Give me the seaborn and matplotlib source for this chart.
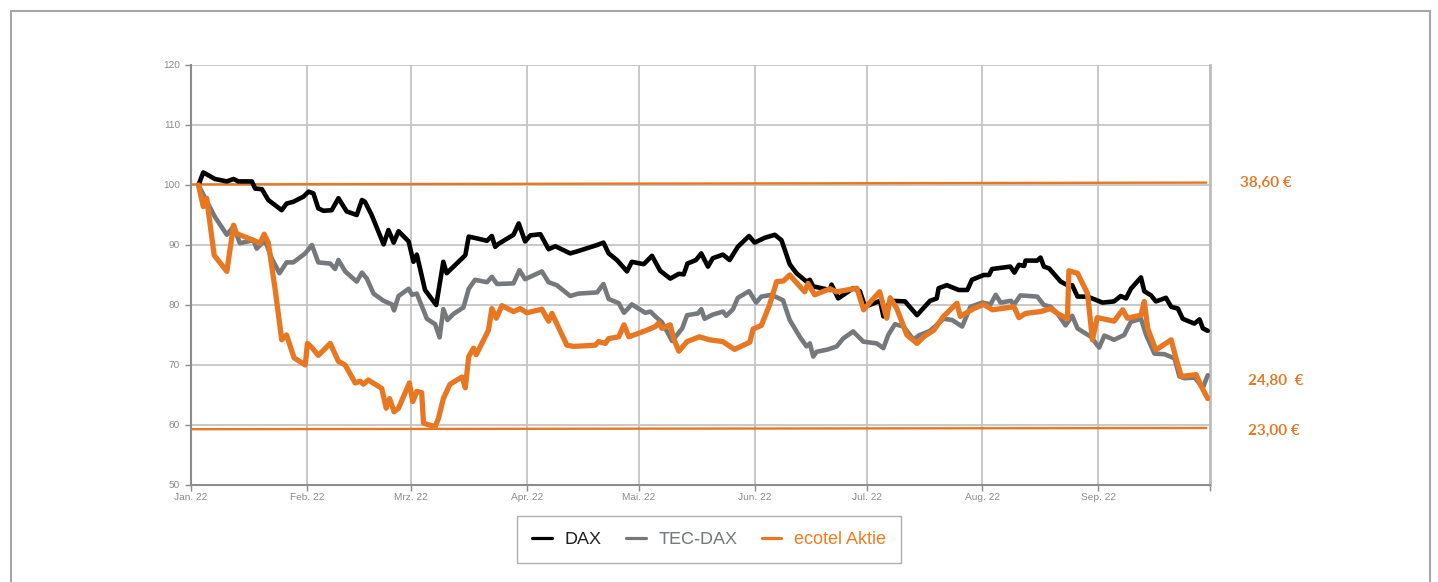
import numpy as np
import pandas as pd
import matplotlib
matplotlib.use("Agg")
import matplotlib.pyplot as plt
from matplotlib.lines import Line2D
from matplotlib.patches import Rectangle
import seaborn as sns

# ---------------- data (days since 2022-01-01, index value) ----------------
dax_days = [2, 3.3, 6.4, 9.6, 11.4, 12.7, 16.3, 17.2, 19.0, 20.7, 24.3, 25.6, 27.4, 30.1, 31.5, 32.8,
            34.1, 35.5, 37.7, 39.5, 41.7, 44.4, 45.8, 46.6, 48.4, 51.6, 52.9, 54.3, 55.6, 58.3, 59.6,
            60.5, 62.7, 65.7, 67.6, 68.5, 73.5, 74.4, 76.6, 79.3, 80.6, 81.5, 82.4, 86.4, 87.8, 89.5,
            90.9, 93.6, 95.8, 97.6, 101.6, 103.8, 108.8, 110.5, 111.9, 114.1, 116.8, 118.1, 121.3,
            123.5, 125.7, 128.4, 130.7, 132.0, 133.0, 135.3, 136.7, 138.5, 139.8, 142.5, 144.3,
            146.5, 149.5, 151.0, 153.7, 156.4, 158.2, 160.4, 162.2, 164.9, 165.8, 166.7, 171.2,
            171.6, 173.4, 177.4, 179.2, 180.6, 184.6, 185.5, 187.3, 191.3, 194.5, 198.0, 199.8,
            200.3, 202.5, 205.7, 208.0, 209.2, 212.4, 213.8, 214.6, 219.5, 220.6, 221.8, 223.2,
            223.6, 226.7, 227.6, 228.5, 229.9, 233.0, 234.8, 236.1, 237.5, 240.2, 244.2, 247.3,
            249.1, 250.5, 251.8, 254.5, 255.4, 257.2, 258.5, 261.2, 262.6, 264.4, 265.7, 268.8,
            270.2, 271.1, 272.4]
dax_values = [100.0, 102.1, 101.0, 100.6, 101.0, 100.6, 100.6, 99.4, 99.3, 97.5, 95.8, 96.9, 97.2, 98.05,
              98.9, 98.6, 96.1, 95.7, 95.8, 97.8, 95.6, 95.0, 97.5, 97.2, 95.0, 90.1, 92.5, 90.4, 92.3,
              90.6, 87.2, 88.4, 82.5, 80.0, 87.2, 85.3, 88.3, 91.4, 91.1, 90.7, 91.5, 89.7, 90.2, 91.7,
              93.6, 90.6, 91.6, 91.8, 89.3, 89.8, 88.6, 89.0, 90.0, 90.4, 88.6, 87.5, 85.6, 87.2, 86.8,
              88.2, 85.7, 84.4, 85.2, 85.1, 86.9, 87.5, 88.6, 86.4, 87.8, 88.4, 87.5, 89.7, 91.5, 90.4,
              91.2, 91.7, 90.8, 86.8, 85.3, 83.9, 84.2, 83.1, 82.5, 83.4, 81.1, 82.8, 82.3, 79.7, 80.7,
              78.1, 80.7, 80.6, 78.3, 80.7, 81.1, 82.8, 83.3, 82.5, 82.5, 84.2, 85.0, 85.0, 86.0, 86.4,
              85.4, 86.7, 86.5, 87.4, 87.4, 87.9, 86.4, 86.1, 83.9, 83.3, 83.3, 81.4, 81.4, 80.4, 80.6,
              81.5, 81.1, 82.7, 84.6, 82.3, 81.6, 80.6, 81.2, 79.7, 79.4, 77.7, 76.9, 77.6, 76.1, 75.7]

tec_days = [2, 3.8, 6.4, 9.6, 11.4, 13.1, 16.7, 17.6, 19.8, 21.6, 23.7, 25.6, 27.4, 30.6, 32.4, 34.1,
            37.3, 38.6, 39.5, 41.3, 44.4, 45.8, 47.1, 48.9, 51.6, 53.8, 54.4, 55.6, 58.3, 59.2, 60.5,
            63.2, 65.4, 66.6, 67.6, 68.7, 70.3, 73.0, 74.4, 76.1, 79.3, 80.6, 82.0, 86.4, 88.0, 89.5,
            94.0, 95.8, 98.0, 101.6, 103.8, 108.8, 110.5, 111.9, 114.6, 116.0, 118.1, 121.7, 123.1,
            124.4, 126.2, 128.9, 131.6, 132.9, 135.8, 136.7, 137.6, 139.8, 142.5, 143.4, 145.2,
            146.5, 149.5, 151.4, 152.8, 155.5, 158.6, 160.4, 163.1, 164.9, 165.8, 166.7, 167.6,
            170.7, 173.0, 174.7, 177.4, 180.1, 183.7, 185.5, 186.8, 188.6, 190.9, 193.6, 194.9,
            198.0, 201.6, 203.9, 206.6, 208.8, 212.0, 214.2, 215.6, 216.9, 219.7, 220.4, 222.2,
            226.7, 228.5, 230.3, 232.1, 234.3, 236.1, 237.5, 241.1, 243.3, 244.7, 247.3, 250.0,
            251.8, 254.5, 255.9, 258.1, 260.8, 263.5, 264.8, 266.2, 268.9, 271.1, 272.4]
tec_values = [100.0, 97.8, 94.7, 91.7, 93.1, 90.3, 90.8, 89.4, 90.8, 87.8, 85.3, 87.1, 87.1, 88.6, 90.0,
              87.1, 86.9, 86.0, 87.5, 85.6, 83.9, 85.4, 84.4, 81.9, 80.7, 80.1, 79.1, 81.5, 82.7, 81.7,
              81.9, 77.7, 76.8, 74.6, 79.3, 77.5, 78.5, 79.6, 82.7, 84.2, 83.8, 84.7, 83.5, 83.6, 85.8,
              84.3, 85.6, 83.8, 83.3, 81.5, 81.9, 82.1, 83.5, 81.0, 80.3, 78.7, 80.1, 78.7, 78.9, 78.1,
              77.1, 74.0, 76.1, 78.3, 78.6, 79.3, 77.7, 78.4, 78.9, 78.2, 79.3, 81.2, 82.3, 80.4, 81.4,
              81.7, 80.8, 77.5, 74.7, 73.1, 73.6, 71.4, 72.2, 72.6, 73.1, 74.4, 75.6, 73.9, 73.6, 72.8,
              75.0, 76.8, 76.4, 74.2, 74.9, 75.7, 77.7, 77.5, 76.4, 79.7, 80.4, 80.1, 81.7, 80.4, 80.7,
              80.0, 81.6, 81.4, 80.0, 79.7, 78.6, 76.6, 78.2, 76.1, 74.7, 72.9, 74.9, 74.2, 75.0, 77.2,
              77.7, 75.0, 71.9, 71.8, 71.1, 68.1, 67.8, 67.9, 66.2, 68.3]

eco_days = [2, 3.3, 4.2, 6.2, 9.6, 11.4, 12.2, 16.7, 18.5, 19.6, 20.7, 22.5, 24.3, 25.6, 27.6, 30.6,
            31.2, 32.4, 34.1, 37.3, 39.5, 41.3, 44.0, 45.3, 46.2, 47.5, 51.1, 52.3, 53.2, 54.4, 55.6,
            58.5, 59.4, 60.5, 61.8, 62.3, 65.4, 66.3, 67.6, 69.4, 72.6, 73.5, 74.4, 75.7, 76.4, 79.7,
            80.6, 81.8, 83.3, 86.4, 88.2, 90.0, 94.0, 95.8, 96.7, 100.7, 102.5, 108.3, 109.2, 111.0,
            111.9, 114.6, 116.0, 117.3, 121.7, 124.4, 125.3, 126.2, 128.4, 129.3, 130.7, 132.9,
            136.2, 138.9, 142.5, 145.6, 149.7, 150.6, 152.8, 155.0, 156.9, 158.7, 160.4, 164.4,
            165.3, 167.1, 171.2, 172.9, 178.4, 180.2, 182.4, 184.5, 186.4, 187.3, 189.1, 191.8,
            194.5, 196.3, 199.0, 201.6, 205.2, 206.1, 209.7, 212.4, 214.7, 220.5, 221.8, 223.6,
            227.6, 230.3, 232.1, 234.8, 235.2, 237.5, 240.2, 241.5, 242.8, 247.3, 249.6, 250.9,
            254.5, 255.4, 256.3, 258.5, 262.6, 263.9, 265.3, 269.3, 270.7, 272.4]
eco_values = [100.0, 96.4, 97.8, 88.3, 85.6, 93.3, 91.9, 90.8, 90.3, 91.8, 90.4, 82.8, 74.2, 75.0, 71.2,
              70.0, 73.6, 72.9, 71.6, 73.6, 70.6, 70.0, 67.0, 67.3, 66.8, 67.5, 66.1, 62.8, 64.4, 62.2,
              62.8, 67.0, 63.9, 65.6, 65.4, 60.3, 59.7, 61.1, 64.4, 66.8, 68.0, 66.2, 71.4, 72.8, 71.7,
              75.8, 79.4, 77.8, 79.9, 78.9, 79.4, 78.7, 79.3, 77.3, 78.6, 73.3, 73.1, 73.3, 73.9, 73.6,
              74.4, 74.7, 76.7, 74.7, 75.7, 76.4, 77.0, 76.1, 76.7, 74.4, 72.3, 73.9, 74.7, 74.2, 73.9,
              72.6, 73.8, 76.0, 76.6, 80.0, 83.9, 84.0, 85.0, 82.2, 83.6, 81.7, 82.7, 82.2, 82.8, 79.2,
              80.8, 82.2, 77.8, 81.2, 79.4, 75.0, 73.6, 74.7, 75.8, 78.1, 80.3, 78.1, 79.4, 80.1, 79.2,
              79.7, 77.9, 78.6, 78.9, 79.4, 78.6, 77.7, 85.7, 85.3, 81.9, 74.2, 77.9, 77.3, 79.2, 77.8,
              78.3, 80.6, 76.1, 72.5, 74.2, 71.1, 68.1, 68.4, 66.4, 64.4]

series_names = ["DAX", "TEC-DAX", "ecotel Aktie"]
ref_high_values = [100.1, 100.4]   # 38,60 EUR line
ref_low_values = [59.3, 59.5]      # 23,00 EUR line
price_labels = ["38,60 €", "24,80  €", "23,00 €"]
month_labels = ["Jan. 22", "Feb. 22", "Mrz. 22", "Apr. 22", "Mai. 22", "Jun. 22", "Jul. 22",
                "Aug. 22", "Sep. 22"]
y_ticks = [50, 60, 70, 80, 90, 100, 110, 120]

# ---------------- styling ----------------
sns.set_theme(style="white")
plt.rcParams["font.family"] = ["Liberation Sans", "DejaVu Sans"]
plt.rcParams["text.hinting"] = "no_autohint"

ORANGE = "#E87722"
GRAY = "#76797C"
BLACK = "#000000"
colors = {"DAX": BLACK, "TEC-DAX": GRAY, "ecotel Aktie": ORANGE}
widths = {"DAX": 3.3, "TEC-DAX": 3.3, "ecotel Aktie": 3.8}

base = pd.Timestamp("2022-01-01")
end = pd.Timestamp("2022-10-01")


def to_dates(days):
    return base + pd.to_timedelta(np.asarray(days, dtype=float), unit="D")


df = pd.concat([
    pd.DataFrame({"Datum": to_dates(dax_days), "Wert": dax_values, "Serie": "DAX"}),
    pd.DataFrame({"Datum": to_dates(tec_days), "Wert": tec_values, "Serie": "TEC-DAX"}),
    pd.DataFrame({"Datum": to_dates(eco_days), "Wert": eco_values, "Serie": "ecotel Aktie"}),
], ignore_index=True)

W, H = 1438, 582
fig = plt.figure(figsize=(W / 100, H / 100), dpi=100)
ax = fig.add_axes([191 / W, 1 - 485 / H, (1210 - 191) / W, (485 - 65) / H])

for name in series_names:
    sub = df[df["Serie"] == name]
    sns.lineplot(data=sub, x="Datum", y="Wert", color=colors[name], linewidth=widths[name],
                 estimator=None, sort=False, ax=ax, legend=False, zorder=3,
                 solid_joinstyle="round")

ref_df = pd.DataFrame({"Datum": [base, end - pd.Timedelta(days=1)] * 2,
                       "Wert": ref_high_values + ref_low_values,
                       "Ref": ["hoch", "hoch", "tief", "tief"]})
for ref in ["hoch", "tief"]:
    sub = ref_df[ref_df["Ref"] == ref]
    sns.lineplot(data=sub, x="Datum", y="Wert", color=ORANGE, linewidth=1.7,
                 estimator=None, ax=ax, legend=False, zorder=2)

ax.set_xlim(base, end)
ax.set_ylim(50, 120)
month_ticks = pd.date_range("2022-01-01", "2022-10-01", freq="MS")
ax.set_xticks(month_ticks)
ax.set_xticklabels(month_labels + [""])
ax.set_yticks(y_ticks)
ax.set_yticklabels([str(v) for v in y_ticks])
ax.set_xlabel("")
ax.set_ylabel("")

ax.grid(True, color="#C4C4C4", linewidth=1.3)
ax.set_axisbelow(True)
ax.tick_params(axis="both", colors="#8A8A8A", labelcolor="#8A8A8A", labelsize=7.3,
               length=4, width=1, direction="out")
ax.tick_params(axis="x", pad=2)
ax.tick_params(axis="y", pad=4)
ax.tick_params(bottom=True, left=True)
for side in ["left", "bottom"]:
    ax.spines[side].set_color("#8C8C8C")
    ax.spines[side].set_linewidth(1.5)
ax.spines["right"].set_color("#BDBDBD")
ax.spines["right"].set_linewidth(2.0)
ax.spines["top"].set_visible(False)

# price labels on the right
label_y = [100.3, 67.3, 59.0]
for txt, yv in zip(price_labels, label_y):
    ax.annotate(txt, xy=(1.0, yv), xycoords=("axes fraction", "data"),
                xytext=(21.5 if txt.startswith("38") else 27.5, 0), textcoords="offset points",
                ha="left", va="center", color=ORANGE, fontsize=11, fontweight="bold",
                family=["Lato", "DejaVu Sans"], annotation_clip=False)

# legend
handles = [Line2D([0], [0], color=colors[n], lw=2.3) for n in series_names]
leg = fig.legend(handles, series_names, loc="center", bbox_to_anchor=(709 / W, 1 - 539.5 / H),
                 ncol=3, frameon=True, fancybox=False, edgecolor="#9A9A9A", fontsize=13,
                 handlelength=1.1, handletextpad=0.7, columnspacing=1.35, borderpad=0.85,
                 borderaxespad=0)
leg.get_frame().set_linewidth(1.0)
text_colors = ["#222222", GRAY, "#F47A1E"]
for t, c in zip(leg.get_texts(), text_colors):
    t.set_color(c)

# outer frame
fig.patches.append(Rectangle((11 / W, -0.05), (1430 - 11) / W, 1.05 - 11 / H,
                             transform=fig.transFigure, fill=False, edgecolor="#A6A6A6",
                             linewidth=1.5))

fig.savefig("out.png", dpi=100)
